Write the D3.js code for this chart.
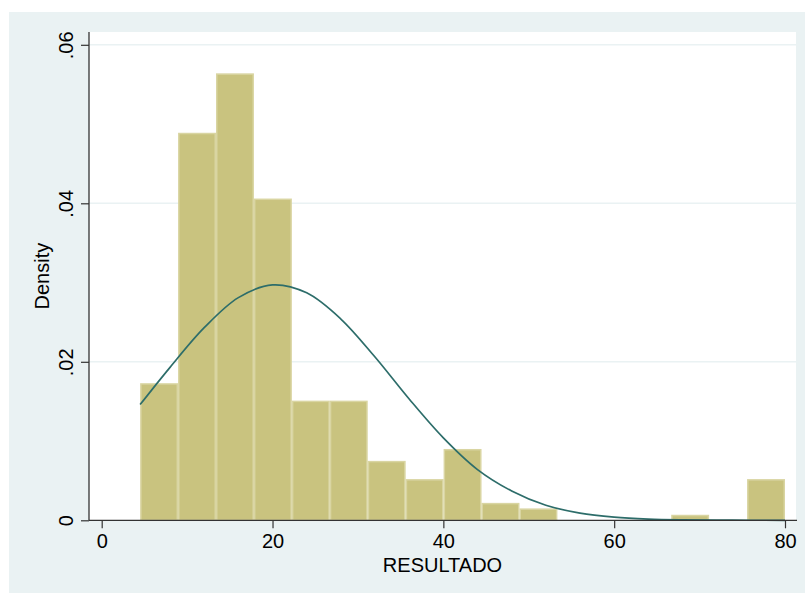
<!DOCTYPE html>
<html>
<head>
<meta charset="utf-8">
<script src="https://cdn.jsdelivr.net/npm/d3@7"></script>
<style>
  html, body { margin: 0; padding: 0; background: #ffffff; }
  svg { display: block; }
  text { font-family: "Liberation Sans", Arial, Helvetica, sans-serif; }
</style>
</head>
<body>
<svg id="chart" width="805" height="593"></svg>
<script>
// ---- data ----
const binStart = 4.5;          // left edge of first bin
const binEnd = 80;             // right edge of last bin
const densities = [0.0173, 0.0489, 0.0564, 0.0406, 0.0151, 0.0151, 0.0075, 0.0052,
                   0.0090, 0.0022, 0.0015, 0, 0, 0, 0.0007, 0, 0.0052];
const curveX = [4.5, 8, 12, 16, 20, 24, 28, 32, 36, 40, 44, 48, 52, 56, 60, 64, 68, 72, 76, 80];
const curveY = [0.0146, 0.0193, 0.0243, 0.0281, 0.0297, 0.0287, 0.0254, 0.0206, 0.0153, 0.0104,
                0.0064, 0.0037, 0.0019, 0.0009, 0.0004, 0.00016, 0.00006, 0.00002, 0.000006, 0.000002];
const xTicks = [0, 20, 40, 60, 80];
const yTicks = [0, 0.02, 0.04, 0.06];
const yTickLabels = ["0", ".02", ".04", ".06"];
const xTitle = "RESULTADO";
const yTitle = "Density";

// ---- layout ----
const svg = d3.select("#chart");
const W = 805, H = 593;
const plot = { left: 89, right: 796, top: 32, bottom: 520.3 };

svg.append("rect").attr("x", 9).attr("y", 12).attr("width", W - 9).attr("height", H - 12)
  .attr("fill", "#eaf2f3");
svg.append("rect").attr("x", plot.left).attr("y", plot.top)
  .attr("width", plot.right - plot.left).attr("height", plot.bottom - plot.top)
  .attr("fill", "#ffffff");

const x = d3.scaleLinear().domain([0, 80]).range([101.7, 785]);
const y = d3.scaleLinear().domain([0, 0.06]).range([520.3, 44.8]);

// gridlines
svg.append("g").selectAll("line").data(yTicks.filter(d => d > 0)).join("line")
  .attr("x1", plot.left).attr("x2", plot.right)
  .attr("y1", d => y(d)).attr("y2", d => y(d))
  .attr("stroke", "#eaf2f3").attr("stroke-width", 1.5);

// bars
const bw = (binEnd - binStart) / densities.length;
svg.append("g").selectAll("rect")
  .data(densities.map((d, i) => ({ x0: binStart + i * bw, x1: binStart + (i + 1) * bw, d })).filter(b => b.d > 0))
  .join("rect")
  .attr("x", b => x(b.x0) + 0.75)
  .attr("width", b => x(b.x1) - x(b.x0) - 1.5)
  .attr("y", b => y(b.d) + 0.75)
  .attr("height", b => y(0) - y(b.d) - 0.75)
  .attr("fill", "#c9c37f")
  .attr("stroke", "#d9d5a2")
  .attr("stroke-width", 1.5);

// normal curve
const line = d3.line().x(d => x(d[0])).y(d => y(d[1])).curve(d3.curveCatmullRom.alpha(0.5));
svg.append("path").datum(curveX.map((v, i) => [v, curveY[i]]))
  .attr("d", line).attr("fill", "none")
  .attr("stroke", "#2d6d6a").attr("stroke-width", 1.7);

// x axis
const xAxis = d3.axisBottom(x).tickValues(xTicks).tickSize(8).tickPadding(6).tickSizeOuter(0)
  .tickFormat(d3.format("d"));
const gx = svg.append("g").attr("transform", `translate(0,${plot.bottom})`).call(xAxis);
gx.select(".domain").remove();
gx.append("line").attr("x1", plot.left).attr("x2", plot.right + 1).attr("y1", 0).attr("y2", 0)
  .attr("stroke", "#333").attr("stroke-width", 1.3);
gx.selectAll(".tick line").attr("stroke", "#333").attr("stroke-width", 1.2);
gx.selectAll(".tick text").attr("font-size", 20).attr("fill", "#000")
  .attr("font-family", "'Liberation Sans', Arial, sans-serif");

// y axis
const yAxis = d3.axisLeft(y).tickValues(yTicks).tickSize(8).tickSizeOuter(0)
  .tickFormat((d, i) => yTickLabels[i]);
const gy = svg.append("g").attr("transform", `translate(${plot.left},0)`).call(yAxis);
gy.select(".domain").remove();
gy.append("line").attr("x1", 0).attr("x2", 0).attr("y1", plot.top).attr("y2", plot.bottom)
  .attr("stroke", "#333").attr("stroke-width", 1.3);
gy.selectAll(".tick line").attr("stroke", "#333").attr("stroke-width", 1.2);
gy.selectAll(".tick text")
  .attr("font-size", 20).attr("fill", "#000")
  .attr("font-family", "'Liberation Sans', Arial, sans-serif")
  .attr("text-anchor", "middle")
  .attr("transform", "rotate(-90)")
  .attr("x", 0).attr("y", -16.5).attr("dy", 0);

// titles
svg.append("text").attr("x", (plot.left + plot.right) / 2).attr("y", 571.5)
  .attr("text-anchor", "middle").attr("font-size", 20).attr("fill", "#000").text(xTitle);
svg.append("text").attr("transform", `translate(49,${(plot.top + plot.bottom) / 2}) rotate(-90)`)
  .attr("text-anchor", "middle").attr("font-size", 20).attr("fill", "#000").text(yTitle);
</script>
</body>
</html>
